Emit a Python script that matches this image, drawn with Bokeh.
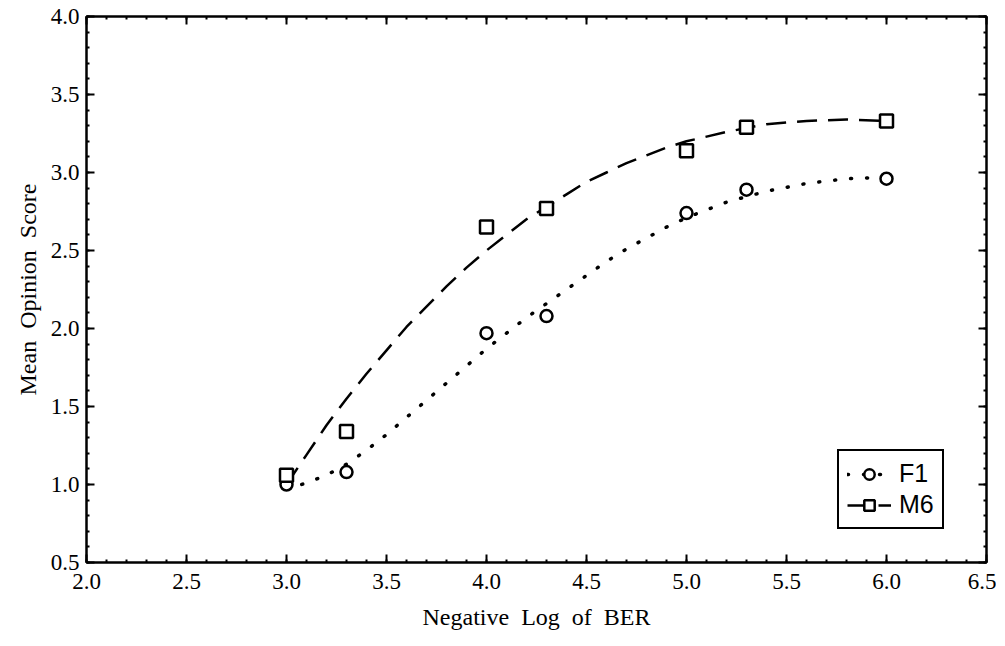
from bokeh.plotting import figure
from bokeh.models import (LinearAxis, Range1d, Legend, LegendItem,
                          SingleIntervalTicker, PrintfTickFormatter, CustomJSTickFormatter)
from bokeh.embed import file_html
from bokeh.resources import INLINE

# ---- data ----
x_pts = [3.0, 3.3, 4.0, 4.3, 5.0, 5.3, 6.0]
f1_scores = [1.00, 1.08, 1.97, 2.08, 2.74, 2.89, 2.96]
m6_scores = [1.06, 1.34, 2.65, 2.77, 3.14, 3.29, 3.33]

fit_x = [3.0, 3.1, 3.2, 3.3, 3.4, 3.5, 3.6, 3.7, 3.8, 3.9, 4.0, 4.1, 4.2, 4.3,
         4.4, 4.5, 4.6, 4.7, 4.8, 4.9, 5.0, 5.2, 5.4, 5.6, 5.8, 6.0]
f1_fit = [0.97, 1.01, 1.06, 1.13, 1.22, 1.32, 1.43, 1.54, 1.65, 1.76, 1.87, 1.97,
          2.07, 2.16, 2.25, 2.34, 2.43, 2.51, 2.58, 2.65, 2.71, 2.81, 2.88, 2.93,
          2.96, 2.97]
m6_fit = [1.00, 1.19, 1.38, 1.55, 1.71, 1.86, 2.01, 2.14, 2.27, 2.39, 2.50, 2.60,
          2.70, 2.78, 2.86, 2.94, 3.00, 3.06, 3.11, 3.16, 3.20, 3.26, 3.31, 3.33,
          3.34, 3.33]

x_label = "Negative\u00a0\u00a0Log\u00a0\u00a0of\u00a0\u00a0BER"
y_label = "Mean\u00a0\u00a0Opinion\u00a0\u00a0Score"
series_names = ["F1", "M6"]

SERIF = "Liberation Serif"

p = figure(width=996, height=637, x_range=Range1d(2.0, 6.5), y_range=Range1d(0.5, 4.0),
           output_backend="svg", toolbar_location=None,
           min_border_left=86, min_border_right=10, min_border_top=16, min_border_bottom=75)
p.xgrid.visible = False
p.ygrid.visible = False
p.outline_line_color = "black"
p.outline_line_width = 2
p.background_fill_color = "white"
p.border_fill_color = "white"

p.add_layout(LinearAxis(), "right")
p.add_layout(LinearAxis(), "above")

for ax in p.xaxis:
    ax.ticker = SingleIntervalTicker(interval=0.5, num_minor_ticks=5)
for ax in p.yaxis:
    ax.ticker = SingleIntervalTicker(interval=0.5, num_minor_ticks=5)

for ax in list(p.xaxis) + list(p.yaxis):
    ax.formatter = PrintfTickFormatter(format="%.1f")
    ax.axis_line_width = 2
    ax.axis_line_color = "black"
    ax.major_tick_in = 8
    ax.major_tick_out = 0
    ax.minor_tick_in = 3
    ax.minor_tick_out = 0
    ax.major_tick_line_width = 2
    ax.minor_tick_line_width = 2
    ax.major_label_text_font = SERIF
    ax.major_label_text_font_size = "23px"
    ax.major_label_text_color = "black"
    ax.axis_label_text_font = SERIF
    ax.axis_label_text_font_style = "normal"
    ax.axis_label_text_color = "black"

# no labels on top/right axes
for ax in (p.right[0], p.above[0]):
    ax.formatter = CustomJSTickFormatter(code="return ''")
    ax.major_label_text_font_size = "0px"
    ax.major_label_standoff = 0

p.below[0].axis_label = x_label
p.below[0].axis_label_text_font_size = "24px"
p.below[0].major_label_standoff = 11
p.below[0].axis_label_standoff = 12
p.left[0].axis_label = y_label
p.left[0].axis_label_text_font_size = "24px"
p.left[0].major_label_standoff = 7
p.left[0].axis_label_standoff = 7

r_f1_line = p.line(fit_x, f1_fit, line_color="black", line_width=3.5,
                   line_dash="1 15", line_cap="round")
r_m6_line = p.line(fit_x, m6_fit, line_color="black", line_width=2.5,
                   line_dash="20 11")
r_f1_pts = p.scatter(x_pts, f1_scores, marker="circle", size=12, fill_color="white",
                     line_color="black", line_width=2.5)
r_m6_pts = p.scatter(x_pts, m6_scores, marker="square", size=13, fill_color="white",
                     line_color="black", line_width=2.5)

legend = Legend(items=[LegendItem(label=series_names[0], renderers=[r_f1_line, r_f1_pts]),
                       LegendItem(label=series_names[1], renderers=[r_m6_line, r_m6_pts])],
                location=(751, 33))
legend.border_line_color = "black"
legend.border_line_width = 2
legend.border_line_alpha = 1
legend.background_fill_color = "white"
legend.background_fill_alpha = 1
legend.label_text_font = "Liberation Sans"
legend.label_text_font_size = "25px"
legend.label_text_color = "black"
legend.glyph_width = 44
legend.glyph_height = 26
legend.label_standoff = 8
legend.padding = 8
legend.spacing = 2
legend.margin = 0
p.add_layout(legend)

open("out.html", "w").write(file_html(p, INLINE))
